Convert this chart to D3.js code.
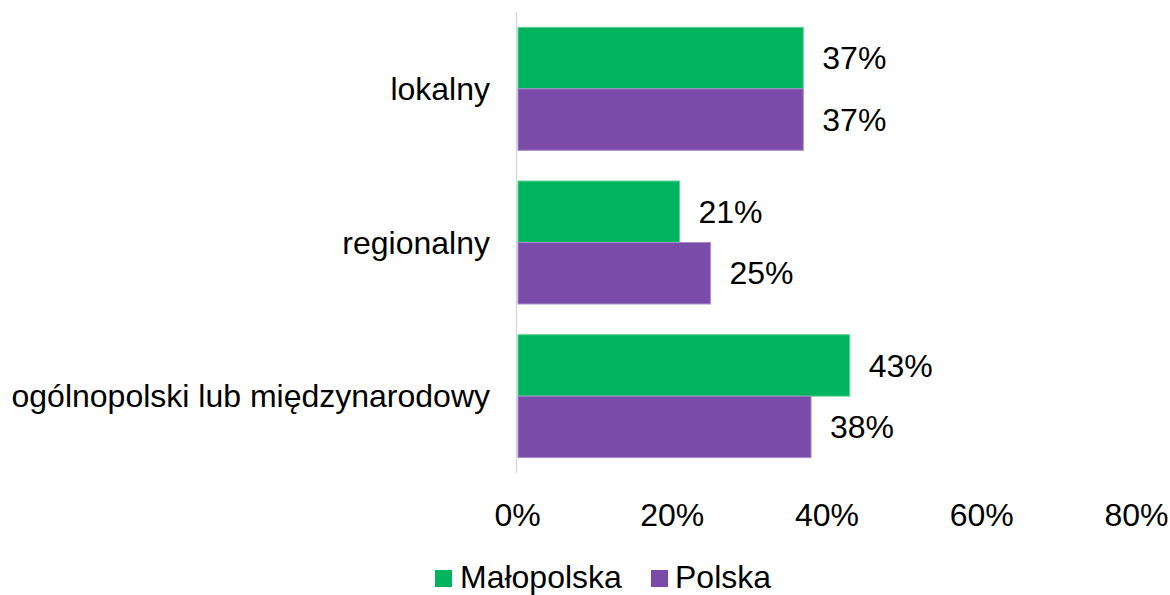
<!DOCTYPE html>
<html><head><meta charset="utf-8">
<script src="https://cdn.jsdelivr.net/npm/d3@7"></script>
<style>body{margin:0;background:#fff;}svg{display:block;font-family:"Liberation Sans",Arial,sans-serif;}</style>
</head><body>
<svg id="c" width="1170" height="595"></svg>
<script>
const categories = ["lokalny", "regionalny", "ogólnopolski lub międzynarodowy"];
const seriesNames = ["Małopolska", "Polska"];
const malopolska = [37, 21, 43];
const polska = [37, 25, 38];
const tickValues = [0, 20, 40, 60, 80];
const colors = ["#00B45E", "#7B4BAA"];
const strokes = ["#5fd394", "#a88bcc"];

const svg = d3.select("#c");
const x = d3.scaleLinear().domain([0, 80]).range([517, 1136]);
const y = d3.scaleBand().domain(categories).range([12, 473]).paddingInner(0.2).paddingOuter(0.1);
const sub = d3.scaleBand().domain(seriesNames).range([0, y.bandwidth()]);
const seriesVals = [malopolska, polska];
const fs = 32;

// axis line
svg.append("line").attr("x1", x(0) - 0.5).attr("x2", x(0) - 0.5).attr("y1", 12).attr("y2", 473)
  .attr("stroke", "#d9d9d9").attr("stroke-width", 1.5);

categories.forEach((c, i) => {
  seriesNames.forEach((s, j) => {
    const v = seriesVals[j][i];
    const yy = y(c) + sub(s);
    svg.append("rect").attr("x", x(0) + 1).attr("y", yy).attr("width", x(v) - x(0) - 1).attr("height", sub.bandwidth())
      .attr("fill", colors[j]).attr("stroke", strokes[j]).attr("stroke-width", 1);
    svg.append("text").attr("x", x(v) + 19).attr("y", yy + sub.bandwidth() / 2).attr("dy", "0.35em")
      .attr("font-size", fs).attr("fill", "#000").text(v + "%");
  });
  svg.append("text").attr("x", 490).attr("y", y(c) + y.bandwidth() / 2).attr("dy", "0.35em")
    .attr("text-anchor", "end").attr("font-size", fs).attr("fill", "#000").text(c);
});

// x tick labels
const ax = svg.append("g").attr("transform", "translate(0,503)")
  .call(d3.axisBottom(x).tickValues(tickValues).tickFormat(d => d + "%").tickSize(0).tickPadding(0));
ax.select(".domain").remove();
ax.selectAll("text").attr("font-size", fs).attr("font-family", "Liberation Sans, Arial, sans-serif").attr("fill", "#000").attr("dy", "0.71em");

// legend
const leg = [{x: 435, t: 460}, {x: 651, t: 675}];
seriesNames.forEach((s, j) => {
  svg.append("rect").attr("x", leg[j].x).attr("y", 570).attr("width", 17).attr("height", 17).attr("fill", colors[j]);
  svg.append("text").attr("x", leg[j].t).attr("y", 588).attr("font-size", fs).attr("fill", "#000").text(s);
});
</script>
</body></html>
